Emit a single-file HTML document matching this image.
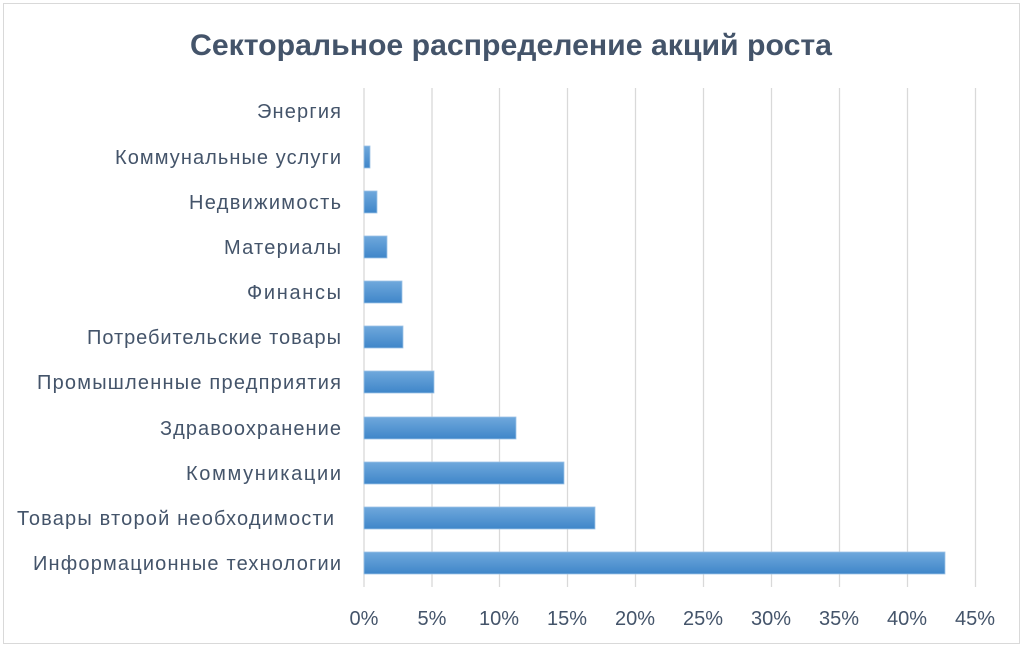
<!DOCTYPE html>
<html><head><meta charset="utf-8"><style>
body{margin:0;background:#fff;}
svg text{font-family:"Liberation Sans",sans-serif;}
</style></head><body>
<svg width="1024" height="648" xmlns="http://www.w3.org/2000/svg">
<defs><linearGradient id="g" x1="0" y1="0" x2="0" y2="1">
<stop offset="0" stop-color="#6fa8dc"/><stop offset="1" stop-color="#3f86c9"/></linearGradient></defs>
<rect x="0" y="0" width="1024" height="648" fill="#fff"/>
<rect x="3.5" y="3.5" width="1016" height="640" fill="none" stroke="#d9d9d9"/>
<text x="190" y="55" font-size="30" font-weight="bold" fill="#44546a" textLength="642" lengthAdjust="spacingAndGlyphs">Секторальное распределение акций роста</text>
<g stroke="#d9d9d9" stroke-width="1.3">
<line x1="364" y1="88" x2="364" y2="587"/><line x1="432" y1="88" x2="432" y2="587"/>
<line x1="499.5" y1="88" x2="499.5" y2="587"/><line x1="567.5" y1="88" x2="567.5" y2="587"/>
<line x1="635.5" y1="88" x2="635.5" y2="587"/><line x1="703.5" y1="88" x2="703.5" y2="587"/>
<line x1="771.5" y1="88" x2="771.5" y2="587"/><line x1="839.5" y1="88" x2="839.5" y2="587"/>
<line x1="907.5" y1="88" x2="907.5" y2="587"/><line x1="975.5" y1="88" x2="975.5" y2="587"/>
</g>
<g fill="url(#g)" stroke="#9dc3e6" stroke-width="0.8">
<rect x="364" y="146" width="6" height="22"/>
<rect x="364" y="191" width="13" height="22"/>
<rect x="364" y="236" width="23" height="22"/>
<rect x="364" y="281" width="38" height="22"/>
<rect x="364" y="326" width="39" height="22"/>
<rect x="364" y="371" width="70" height="22"/>
<rect x="364" y="417" width="152" height="22"/>
<rect x="364" y="462" width="200" height="22"/>
<rect x="364" y="507" width="231" height="22"/>
<rect x="364" y="552" width="581" height="22"/>
</g>
<g font-size="20" fill="#44546a" lengthAdjust="spacingAndGlyphs">
<text x="257" y="118" textLength="84">Энергия</text>
<text x="115" y="164" textLength="226">Коммунальные услуги</text>
<text x="189" y="209" textLength="152">Недвижимость</text>
<text x="224" y="254" textLength="117">Материалы</text>
<text x="247" y="299" textLength="94">Финансы</text>
<text x="87" y="344" textLength="254">Потребительские товары</text>
<text x="37" y="389" textLength="304">Промышленные предприятия</text>
<text x="160" y="435" textLength="181">Здравоохранение</text>
<text x="186" y="480" textLength="155">Коммуникации</text>
<text x="17" y="525" textLength="317">Товары второй необходимости</text>
<text x="33" y="570" textLength="308">Информационные технологии</text>
</g>
<g font-size="20" fill="#44546a" text-anchor="middle">
<text x="364" y="625">0%</text><text x="432" y="625">5%</text><text x="499" y="625">10%</text>
<text x="567" y="625">15%</text><text x="635" y="625">20%</text><text x="703" y="625">25%</text>
<text x="771" y="625">30%</text><text x="839" y="625">35%</text><text x="907" y="625">40%</text>
<text x="975" y="625">45%</text>
</g>
</svg>
</body></html>
